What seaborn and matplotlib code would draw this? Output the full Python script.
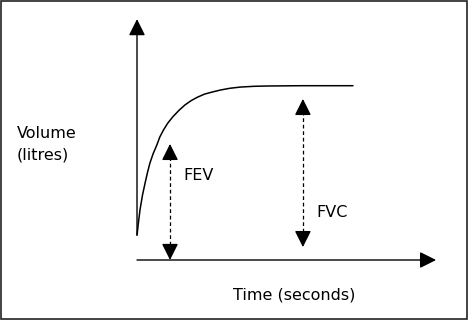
import matplotlib
matplotlib.use("Agg")
import matplotlib.pyplot as plt
import seaborn as sns
import pandas as pd
from matplotlib.patches import Rectangle

# spirometry curve (time in s, volume in litres)
time_s = [0, 0.05, 0.1, 0.18, 0.27, 0.35, 0.43, 0.54, 0.66, 0.76, 0.88, 1.03,
          1.2, 1.4, 1.6, 1.8, 2.0, 2.25, 2.55, 2.8, 3.1, 3.45, 3.9, 4.35, 5.45, 7.2]
volume_l = [0.83, 1.27, 1.67, 2.15, 2.57, 2.92, 3.23, 3.55, 3.83, 4.1, 4.33, 4.57,
            4.78, 4.99, 5.17, 5.31, 5.42, 5.53, 5.61, 5.67, 5.725, 5.765, 5.79,
            5.80, 5.81, 5.81]

# axis arrows
x_axis_end = 9.97
y_axis_start = 0.83
y_axis_end = 8.03

# double arrows: (time, bottom, top)
fev = (1.1, 0.0, 3.87)
fvc = (5.53, 0.43, 5.37)

labels = ["FEV", "FVC"]

sns.set_style("white")
plt.rcParams["font.family"] = ["DejaVu Sans"]
plt.rcParams["text.color"] = "black"

fig = plt.figure(figsize=(4.68, 3.2), dpi=100)
ax = fig.add_axes([0, 0, 1, 1])
ax.set_xlim(-4.567, 11.033)
ax.set_ylim(-2.0, 8.667)
ax.axis("off")

df = pd.DataFrame({"time": time_s, "volume": volume_l})
sns.lineplot(data=df, x="time", y="volume", color="black", lw=1.1,
             sort=False, ax=ax)

head = dict(arrowstyle="-|>,head_length=0.4,head_width=0.2", color="black",
            lw=1.0, mutation_scale=25, shrinkA=0, shrinkB=0)
# axes
ax.annotate("", xy=(x_axis_end, 0), xytext=(0, 0), arrowprops=head)
ax.annotate("", xy=(0, y_axis_end), xytext=(0, y_axis_start), arrowprops=head)

# dashed double arrows: dashed shaft plus solid heads
hl = 0.5
for (t, lo, hi) in (fev, fvc):
    ax.plot([t, t], [lo + hl, hi - hl], color="black", lw=0.9,
            linestyle=(0, (3, 2.2)))
    ax.annotate("", xy=(t, hi), xytext=(t, hi - hl), arrowprops=head)
    ax.annotate("", xy=(t, lo), xytext=(t, lo + hl), arrowprops=head)

fs = 11.5
ax.text(1.53, 2.83, labels[0], fontsize=fs, va="center", ha="left")
ax.text(5.97, 1.6, labels[1], fontsize=fs, va="center", ha="left")
ax.text(-4.0, 3.87, "Volume\n(litres)", fontsize=fs, va="center", ha="left",
        linespacing=1.55)
ax.text(3.2, -1.17, "Time (seconds)", fontsize=fs, va="center", ha="left")

fig.patches.append(Rectangle((0.002, 0.002), 0.996, 0.996, transform=fig.transFigure,
                             fill=False, edgecolor="#222222", lw=1.2))

fig.savefig("out.png", dpi=100)
